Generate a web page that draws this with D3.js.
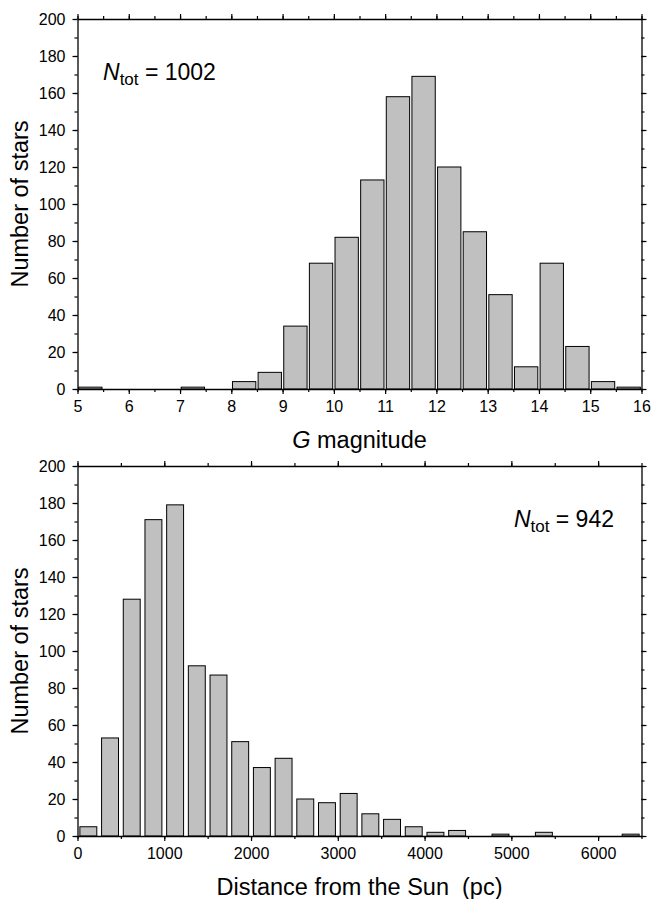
<!DOCTYPE html>
<html>
<head>
<meta charset="utf-8">
<script src="https://cdn.jsdelivr.net/npm/d3@7"></script>
<style>
  body { margin: 0; background: #fff; }
  text { font-family: "Liberation Sans", Arial, sans-serif; fill: #000; white-space: pre; }
</style>
</head>
<body>
<div id="chart"></div>
<script>
// G magnitude histogram, bins of 0.5 mag
const magBinStart = [5, 5.5, 6, 6.5, 7, 7.5, 8, 8.5, 9, 9.5, 10, 10.5, 11, 11.5, 12, 12.5, 13, 13.5, 14, 14.5, 15, 15.5];
const magCounts   = [1, 0, 0, 0, 1, 0, 4, 9, 34, 68, 82, 113, 158, 169, 120, 85, 51, 12, 68, 23, 4, 1];

// distance histogram, bins of 250 pc
const distBinStart = [0, 250, 500, 750, 1000, 1250, 1500, 1750, 2000, 2250, 2500, 2750, 3000, 3250,
  3500, 3750, 4000, 4250, 4500, 4750, 5000, 5250, 5500, 5750, 6000, 6250];
const distCounts = [5, 53, 128, 171, 179, 92, 87, 51, 37, 42, 20, 18, 23, 12,
  9, 5, 2, 3, 0, 1, 0, 2, 0, 0, 0, 1];

const yTicks = [0, 20, 40, 60, 80, 100, 120, 140, 160, 180, 200];
const magTicks = [5, 6, 7, 8, 9, 10, 11, 12, 13, 14, 15, 16];
const distTicks = [0, 1000, 2000, 3000, 4000, 5000, 6000];

const W = 652, H = 899;
const svg = d3.select("#chart").append("svg")
  .attr("width", W).attr("height", H);

function panel(opts) {
  const left = 77.5, right = 641.5;
  const x = d3.scaleLinear().domain(opts.xDomain).range([left, right]);
  const y = d3.scaleLinear().domain([0, 200]).range([opts.bottom, opts.top]);
  const g = svg.append("g");

  // bars
  g.selectAll("rect.bar")
    .data(opts.starts.map((s, i) => ({ s: s, c: opts.counts[i] })).filter(d => d.c > 0))
    .join("rect")
    .attr("class", "bar")
    .attr("x", d => x(d.s + opts.bin * opts.gap))
    .attr("width", d => x(d.s + opts.bin * (1 - opts.gap)) - x(d.s + opts.bin * opts.gap))
    .attr("y", d => y(d.c))
    .attr("height", d => y(0) - y(d.c))
    .attr("fill", "#c0c0c0")
    .attr("stroke", "#000")
    .attr("stroke-width", 1);

  // minor tick values
  const xMinor = d3.range(opts.xDomain[0], opts.xDomain[1] + 1e-9, opts.xMinor);
  const yMinor = d3.range(0, 201, 10);

  const ax = g.append("g").attr("transform", `translate(0,${opts.bottom})`)
    .call(d3.axisBottom(x).tickValues(opts.xTicks).tickSize(5).tickSizeOuter(0)
      .tickFormat(opts.fmt).tickPadding(7));
  ax.selectAll("text").style("font-size", "16px");
  g.append("g").attr("transform", `translate(0,${opts.bottom})`)
    .call(d3.axisBottom(x).tickValues(xMinor).tickSize(3).tickSizeOuter(0).tickFormat(""))
    .select(".domain").remove();

  g.append("g").attr("transform", `translate(0,${opts.top})`)
    .call(d3.axisTop(x).tickValues(opts.xTicks).tickSize(5).tickSizeOuter(0).tickFormat(""));
  g.append("g").attr("transform", `translate(0,${opts.top})`)
    .call(d3.axisTop(x).tickValues(xMinor).tickSize(3).tickSizeOuter(0).tickFormat(""))
    .select(".domain").remove();

  const leftAx = g.append("g").attr("transform", `translate(${left},0)`)
    .call(d3.axisLeft(y).tickValues(yTicks).tickSize(5).tickSizeOuter(0).tickPadding(7));
  leftAx.selectAll("text").style("font-size", "16px");
  g.append("g").attr("transform", `translate(${left},0)`)
    .call(d3.axisLeft(y).tickValues(yMinor).tickSize(3).tickSizeOuter(0).tickFormat(""))
    .select(".domain").remove();

  g.append("g").attr("transform", `translate(${right},0)`)
    .call(d3.axisRight(y).tickValues(yTicks).tickSize(5).tickSizeOuter(0).tickFormat(""));
  g.append("g").attr("transform", `translate(${right},0)`)
    .call(d3.axisRight(y).tickValues(yMinor).tickSize(3).tickSizeOuter(0).tickFormat(""))
    .select(".domain").remove();

  g.selectAll(".domain").attr("stroke-width", 1.3);
  g.selectAll(".tick line").attr("stroke-width", 1.2);

  // y label
  g.append("text")
    .attr("transform", `translate(28,${(opts.top + opts.bottom) / 2}) rotate(-90)`)
    .attr("text-anchor", "middle")
    .style("font-size", "23.5px")
    .text("Number of stars");

  // x label
  const xl = g.append("text")
    .attr("x", (left + right) / 2)
    .attr("y", opts.bottom + 58.5)
    .attr("text-anchor", "middle")
    .style("font-size", "23.5px");
  opts.xLabel(xl);

  // N_tot annotation
  const nt = g.append("text")
    .attr("x", opts.ntX).attr("y", opts.ntY)
    .attr("text-anchor", opts.ntAnchor)
    .style("font-size", "23px");
  nt.append("tspan").style("font-style", "italic").text("N");
  nt.append("tspan").attr("dy", 5).style("font-size", "17px").text("tot");
  nt.append("tspan").attr("dy", -5).text(" = " + opts.ntot);
}

panel({
  top: 19, bottom: 389,
  xDomain: [5, 16], xTicks: magTicks, xMinor: 0.5, fmt: d3.format("d"),
  starts: magBinStart, counts: magCounts, bin: 0.5, gap: 0.045,
  xLabel: t => {
    t.append("tspan").style("font-style", "italic").text("G");
    t.append("tspan").text(" magnitude");
  },
  ntX: 103, ntY: 80, ntAnchor: "start", ntot: 1002
});

panel({
  top: 466, bottom: 836,
  xDomain: [0, 6500], xTicks: distTicks, xMinor: 500, fmt: d3.format("d"),
  starts: distBinStart, counts: distCounts, bin: 250, gap: 0.11,
  xLabel: t => { t.text("Distance from the Sun  (pc)"); },
  ntX: 614, ntY: 527, ntAnchor: "end", ntot: 942
});
</script>
</body>
</html>
